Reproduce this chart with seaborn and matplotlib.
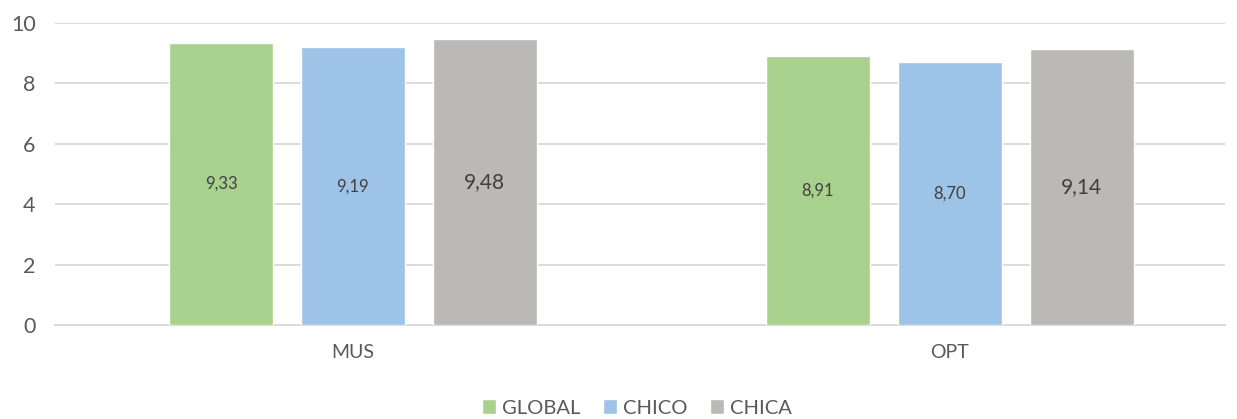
import matplotlib.pyplot as plt
import numpy as np
import pandas as pd
import seaborn as sns

# chart data
categories = ["MUS", "OPT"]
groups = ["GLOBAL", "CHICO", "CHICA"]
global_vals = [9.33, 8.91]
chico_vals = [9.19, 8.70]
chica_vals = [9.48, 9.14]

COLORS = {"GLOBAL": "#A9D18E", "CHICO": "#9DC3E6", "CHICA": "#BAB9B8"}
LABEL_SIZE = {"GLOBAL": 12, "CHICO": 12, "CHICA": 15}

df = pd.DataFrame({
    "cat": categories * 3,
    "group": ["GLOBAL"] * 2 + ["CHICO"] * 2 + ["CHICA"] * 2,
    "value": global_vals + chico_vals + chica_vals,
})

sns.set_style("white")
plt.rcParams["font.family"] = ["Lato", "DejaVu Sans"]

fig = plt.figure(figsize=(12.37, 4.19), dpi=100)
ax = fig.add_axes([55 / 1237, 1 - 325 / 419, 1170 / 1237, 302 / 419])

sns.barplot(data=df, x="cat", y="value", hue="group", hue_order=groups,
            palette=COLORS, width=0.663, gap=0.213, ax=ax, legend=True,
            saturation=1, zorder=3)

ax.set_ylim(0, 10)
ax.set_yticks(range(0, 11, 2))
ax.set_xlim(-0.499, 1.461)
ax.grid(axis="y", color="#D9D9D9", linewidth=1.3, zorder=0)
ax.set_axisbelow(True)
for s in ["top", "right", "left"]:
    ax.spines[s].set_visible(False)
ax.spines["bottom"].set_color("#D9D9D9")
ax.spines["bottom"].set_linewidth(1.3)
ax.tick_params(axis="y", colors="#595959", labelsize=15.5, length=0, pad=14)
ax.tick_params(axis="x", colors="#595959", labelsize=14, length=0, pad=14)
ax.set_xlabel("")
ax.set_ylabel("")

# value labels in the middle of each bar
for cont, g in zip(ax.containers, groups):
    labels = [f"{v:.2f}".replace(".", ",") for v in cont.datavalues]
    ax.bar_label(cont, labels=labels, label_type="center",
                 fontsize=LABEL_SIZE[g], color="#404040")

ax.legend(loc="center", bbox_to_anchor=(637 / 1237, 1 - 408 / 419),
          bbox_transform=fig.transFigure, ncol=3, frameon=False,
          fontsize=14.5, handlelength=0.7, handleheight=0.7,
          handletextpad=0.3, columnspacing=1.1, labelcolor="#595959",
          borderpad=0)

plt.savefig("out.png", dpi=100)
plt.close()
